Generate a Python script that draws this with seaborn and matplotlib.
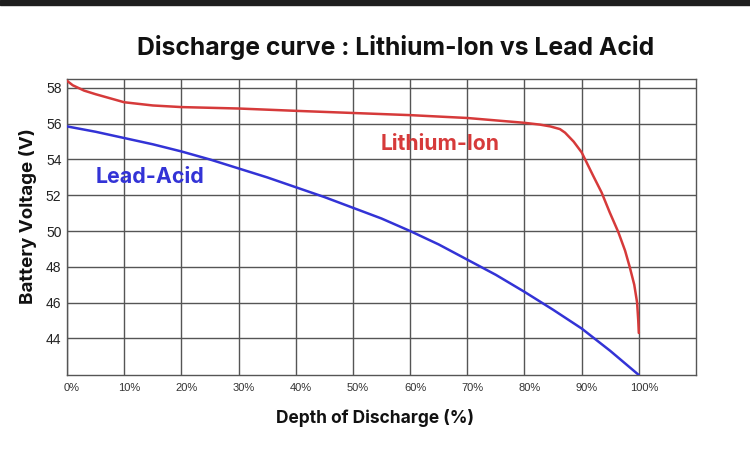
import matplotlib
matplotlib.use("Agg")
import matplotlib.pyplot as plt
import matplotlib.transforms as mtransforms
import seaborn as sns
import pandas as pd
from matplotlib.patches import Rectangle

# ---- data ----
li_dod = [0, 1, 3, 5, 10, 15, 20, 30, 40, 50, 60, 70, 80, 82.7, 84.5, 86.2, 87.1, 88.6, 90, 92, 93.5, 94.9,
          96.4, 97.6, 98.4, 99.2, 99.7, 99.9, 100]
li_volt = [58.4, 58.15, 57.85, 57.65, 57.2, 57.02, 56.93, 56.85, 56.72, 56.6, 56.48, 56.32, 56.05, 55.95, 55.85,
           55.7, 55.5, 55.0, 54.4, 53.1, 52.15, 51.05, 49.95, 48.9, 48.0, 47.0, 46.0, 45.0, 44.3]
pb_dod = [0, 5, 10, 15, 20, 25, 30, 35, 40, 45, 50, 55, 60, 65, 70, 75, 80, 85, 90, 95, 100]
pb_volt = [55.85, 55.55, 55.2, 54.85, 54.45, 54.0, 53.5, 53.0, 52.45, 51.9, 51.3, 50.7, 50.0, 49.25, 48.4,
           47.55, 46.6, 45.6, 44.55, 43.3, 41.95]
x_ticks = [0, 10, 20, 30, 40, 50, 60, 70, 80, 90, 100]
x_tick_labels = ["0%", "10%", "20%", "30%", "40%", "50%", "60%", "70%", "80%", "90%", "100%"]
y_ticks = [44, 46, 48, 50, 52, 54, 56, 58]
series_names = ["Lithium-Ion", "Lead-Acid"]

df = pd.concat([
    pd.DataFrame({"dod": li_dod, "volt": li_volt, "battery": series_names[0]}),
    pd.DataFrame({"dod": pb_dod, "volt": pb_volt, "battery": series_names[1]}),
])

sns.set_theme(style="white")
plt.rcParams["font.family"] = ["Liberation Sans", "DejaVu Sans"]

RED = "#d63a3a"
BLUE = "#3333d6"
GRID = "#555555"
BOLD = ["Inter", "DejaVu Sans"]

fig = plt.figure(figsize=(7.5, 4.5), dpi=100)
fig.patches.append(Rectangle((0, 1 - 5 / 450), 1, 5 / 450, transform=fig.transFigure,
                             color="#1e1e1e", zorder=0))
ax = fig.add_axes([67 / 750, 1 - 375 / 450, (696 - 67) / 750, (375 - 79) / 450])

sns.lineplot(data=df, x="dod", y="volt", hue="battery", palette={series_names[0]: RED, series_names[1]: BLUE},
             sort=False, estimator=None, linewidth=1.8, legend=False, ax=ax, zorder=3)
for ln in ax.lines:
    ln.set_solid_joinstyle("round")

ax.set_xlim(0, 110)
ax.set_ylim(41.95, 58.5)
ax.set_xticks(x_ticks)
ax.set_xticklabels(x_tick_labels, fontsize=8, color="#333333")
ax.set_yticks(y_ticks)
ax.set_yticklabels([str(v) for v in y_ticks], fontsize=10, color="#222222")
ax.tick_params(axis="both", length=0)
ax.tick_params(axis="x", pad=6)
ax.tick_params(axis="y", pad=4)
shift = mtransforms.ScaledTranslation(5 / 100, 0, fig.dpi_scale_trans)
for lbl in ax.get_xticklabels():
    lbl.set_transform(lbl.get_transform() + shift)
ax.grid(True, color=GRID, linewidth=1.0)
ax.set_axisbelow(True)
for s in ax.spines.values():
    s.set_color(GRID)
    s.set_linewidth(1.0)

ax.set_xlabel("Depth of Discharge (%)", fontsize=12.5, fontweight="bold", family=BOLD, color="#111111")
ax.set_ylabel("Battery Voltage (V)", fontsize=13.5, fontweight="bold", family=BOLD, color="#111111")
ax.xaxis.set_label_coords((375 - 67) / 629, (375 - 418) / 296)
ax.xaxis.label.set_va("center")
ax.yaxis.set_label_coords((28 - 67) / 629, (375 - 216) / 296)
ax.yaxis.label.set_va("center")
ax.yaxis.label.set_ha("center")
ax.yaxis.label.set_rotation_mode("default")

ax.text(65.2, 54.85, series_names[0], color=RED, fontsize=15.2, fontweight="bold", family=BOLD,
        ha="center", va="center")
ax.text(14.6, 53.0, series_names[1], color=BLUE, fontsize=15.4, fontweight="bold", family=BOLD,
        ha="center", va="center")

fig.text(396 / 750, 1 - 47 / 450, "Discharge curve : Lithium-Ion vs Lead Acid", fontsize=17.8, fontweight="bold",
         family=BOLD, ha="center", va="center", color="#111111")

fig.savefig("out.png", dpi=100, facecolor="white")
